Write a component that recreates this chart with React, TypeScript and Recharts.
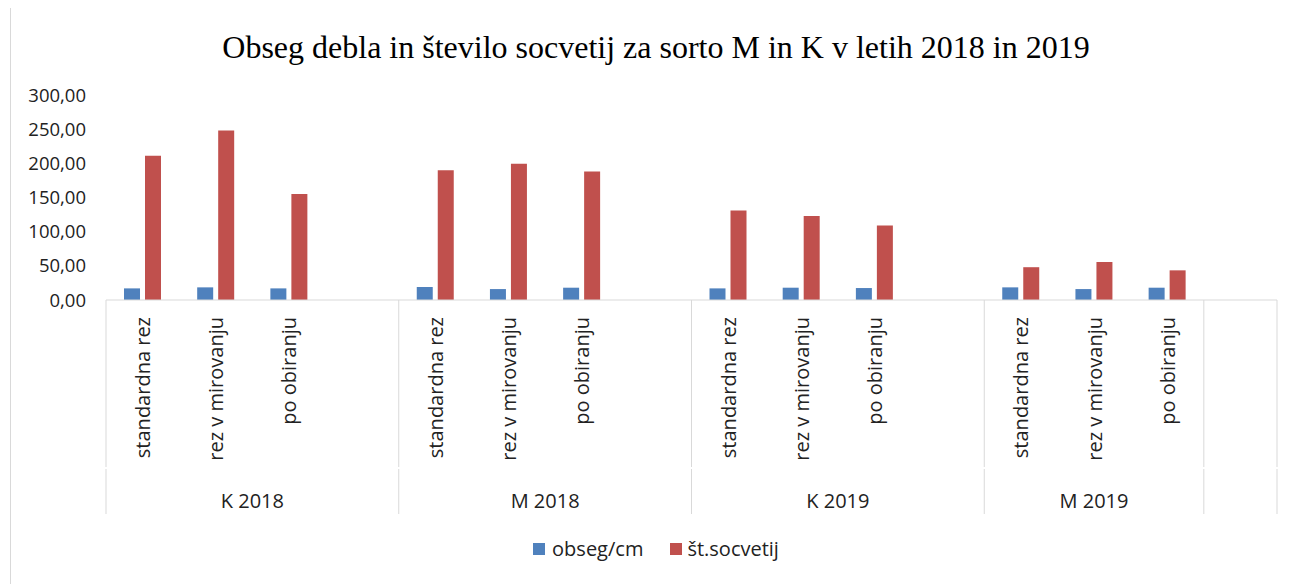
import React from 'react';
import { BarChart, Bar, XAxis, YAxis } from 'recharts';

// categories, in Excel order (a blank slot closes every group)
const categories = [
  'standardna rez', 'rez v mirovanju', 'po obiranju', '',
  'standardna rez', 'rez v mirovanju', 'po obiranju', '',
  'standardna rez', 'rez v mirovanju', 'po obiranju', '',
  'standardna rez', 'rez v mirovanju', 'po obiranju', '',
];
const groups = ['K 2018', 'M 2018', 'K 2019', 'M 2019', ''];
// first slot index of each group
const groupStarts = [0, 4, 8, 12, 15];
const groupEnd = 16;

const obseg = [17, 18.5, 17, null, 19, 16, 18, null, 17, 18, 17.5, null, 18.5, 16, 18, null];
const socvetij = [211, 248, 155, null, 190, 199.5, 188, null, 131, 123, 109, null, 48, 55.6, 43.4, null];

const yTicks = [0, 50, 100, 150, 200, 250, 300];

const data = categories.map((c, i) => ({
  key: 'c' + i,
  cat: c,
  obseg: obseg[i],
  socvetij: socvetij[i],
}));

const BLUE = '#4F81BD';
const RED = '#C0504D';
const GRID = '#d9d9d9';
const FONT = '"Open Sans", sans-serif';

const fmt = (v: number) => v.toFixed(2).replace('.', ',');

const CategoryTick = (props: any) => {
  const { x, y, index, visibleTicksCount } = props;
  const step = 1171 / (visibleTicksCount || 16);
  const label = categories[index];
  const lineBottom = y + 214;
  const items: React.ReactNode[] = [];
  const left = x - step / 2;
  const drawLine = (lx: number, k: string) => {
    items.push(<line key={k + 'a'} x1={lx} x2={lx} y1={y} y2={y + 167} stroke={GRID} />);
    items.push(<line key={k + 'b'} x1={lx} x2={lx} y1={y + 169} y2={lineBottom} stroke={GRID} />);
  };
  const gi = groupStarts.indexOf(index);
  if (gi >= 0) drawLine(left, 's');
  if (index === groupEnd - 1) drawLine(x + step / 2, 'e');
  // group label at the centre of its slots
  groupStarts.forEach((start, g) => {
    const end = g + 1 < groupStarts.length ? groupStarts[g + 1] : groupEnd;
    const mid = (start + end - 1) / 2;
    if (!groups[g]) return;
    if (Math.floor(mid) === index) {
      const cx = x + (mid - index) * step;
      items.push(
        <text key="g" x={cx} y={y + 200} textAnchor="middle" dominantBaseline="central"
          fontFamily={FONT} fontSize={20} fill="#222">
          {groups[g]}
        </text>
      );
    }
  });
  if (label) {
    items.push(
      <text key="l" x={0} y={0} transform={`translate(${x},${y + 17}) rotate(-90)`}
        textAnchor="end" dominantBaseline="central" fontFamily={FONT} fontSize={20} fill="#222">
        {label}
      </text>
    );
  }
  return <g>{items}</g>;
};

const LegendBox = () => (
  <div style={{ position: 'absolute', left: 0, top: 528, width: 1296, display: 'flex', justifyContent: 'center', alignItems: 'center', fontFamily: FONT, fontSize: 20, color: '#222', lineHeight: '26px' }}>
    <span style={{ width: 12, height: 12, background: BLUE, display: 'inline-block', marginRight: 7 }} />
    <span style={{ marginRight: 27 }}>obseg/cm</span>
    <span style={{ width: 12, height: 12, background: RED, display: 'inline-block', marginRight: 5 }} />
    <span>št.socvetij</span>
  </div>
);

export default function App() {
  return (
    <div style={{ position: 'relative', width: 1296, height: 576 }}>
      <div style={{ position: 'absolute', left: 1.5, top: -3, width: 1296, height: 600, border: `1px solid ${GRID}`, boxSizing: 'border-box' }} />
      <div style={{ position: 'absolute', left: 0, width: 1296, top: 19, textAlign: 'center', fontFamily: '"Liberation Serif", serif', fontSize: 32, color: '#000', lineHeight: '40px' }}>
        Obseg debla in število socvetij za sorto M in K v letih 2018 in 2019
      </div>
      <BarChart width={1296} height={576} data={data} margin={{ top: 87, right: 27, bottom: 0, left: 0 }}
        barSize={16} barGap={5}>
        <XAxis dataKey="key" interval={0} height={284} tickLine={false} axisLine={{ stroke: GRID }}
          tick={<CategoryTick />} tickSize={0} tickMargin={0} />
        <YAxis domain={[0, 300]} ticks={yTicks} width={98} axisLine={false} tickLine={false}
          tickSize={0} tickMargin={20} tickFormatter={fmt}
          tick={{ fontFamily: FONT, fontSize: 18.5, fill: '#222' }} />
        <Bar dataKey="obseg" name="obseg/cm" fill={BLUE} isAnimationActive={false} />
        <Bar dataKey="socvetij" name="št.socvetij" fill={RED} isAnimationActive={false} />
      </BarChart>
      <LegendBox />
    </div>
  );
}
